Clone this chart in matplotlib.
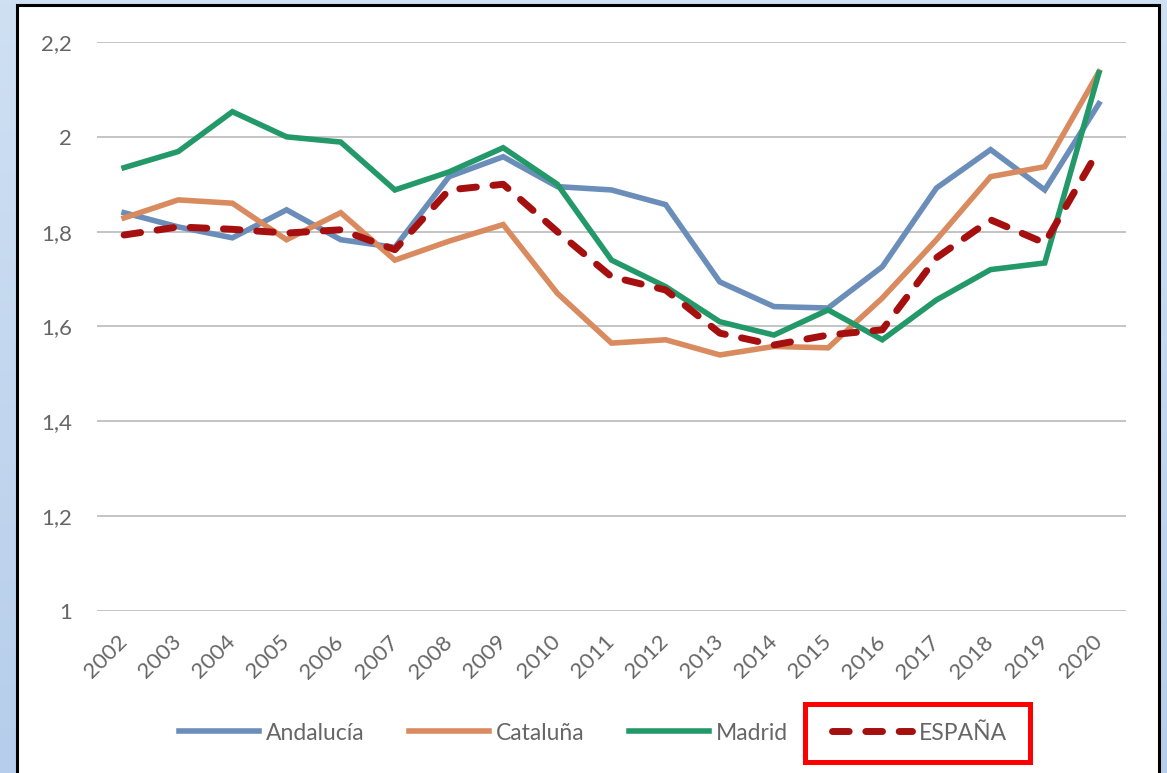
import matplotlib
matplotlib.use("Agg")
import matplotlib.pyplot as plt
import numpy as np
from matplotlib.patches import Rectangle
from matplotlib.colors import LinearSegmentedColormap

plt.rcParams["font.family"] = ["Lato", "DejaVu Sans"]

years = ["2002", "2003", "2004", "2005", "2006", "2007", "2008", "2009", "2010", "2011",
         "2012", "2013", "2014", "2015", "2016", "2017", "2018", "2019", "2020"]
andalucia = [1.840, 1.810, 1.787, 1.846, 1.783, 1.767, 1.916, 1.958, 1.895, 1.888,
             1.857, 1.694, 1.642, 1.639, 1.726, 1.892, 1.973, 1.888, 2.070]
cataluna = [1.829, 1.867, 1.860, 1.783, 1.840, 1.740, 1.780, 1.815, 1.670, 1.565,
            1.572, 1.540, 1.558, 1.555, 1.660, 1.783, 1.916, 1.937, 2.137]
madrid = [1.935, 1.969, 2.053, 2.000, 1.989, 1.888, 1.926, 1.977, 1.900, 1.740,
          1.684, 1.610, 1.582, 1.635, 1.572, 1.656, 1.720, 1.734, 2.135]
espana = [1.793, 1.810, 1.805, 1.797, 1.804, 1.762, 1.888, 1.900, 1.800, 1.705,
          1.677, 1.586, 1.561, 1.582, 1.593, 1.745, 1.825, 1.776, 1.973]
yticks = [1.0, 1.2, 1.4, 1.6, 1.8, 2.0, 2.2]
ytick_labels = ["1", "1,2", "1,4", "1,6", "1,8", "2", "2,2"]

W, H = 1167, 773
fig = plt.figure(figsize=(W / 100, H / 100), dpi=100)

# blue gradient background
bg = fig.add_axes([0, 0, 1, 1], zorder=-3)
cmap = LinearSegmentedColormap.from_list("bg", ["#CFE0F3", "#B6CEEB"])
bg.imshow(np.linspace(0, 1, 256).reshape(-1, 1), aspect="auto", cmap=cmap,
          extent=[0, 1, 0, 1], origin="upper")
bg.set_axis_off()

# white panel with black border
fig.patches.append(Rectangle((17 / W, -0.02), 1142 / W, (H - 5) / H + 0.02,
                             transform=fig.transFigure, facecolor="white",
                             edgecolor="black", linewidth=2.2, zorder=-2))

ax = fig.add_axes([97 / W, (H - 611) / H, 1029 / W, 569 / H])
ax.set_facecolor("none")
x = np.arange(len(years))
ax.plot(x, andalucia, color="#6A8DBA", lw=4, solid_joinstyle="miter", label="Andalucía")
ax.plot(x, cataluna, color="#D98B5F", lw=4, solid_joinstyle="miter", label="Cataluña")
ax.plot(x, madrid, color="#23996A", lw=4, solid_joinstyle="miter", label="Madrid")
ax.plot(x, espana, color="#A50F0F", lw=5, dashes=(2.4, 2.4), dash_capstyle="round",
        label="ESPAÑA")

ax.set_xlim(-0.5, len(years) - 0.5)
ax.set_ylim(1, 2.2)
ax.set_yticks(yticks)
ax.set_yticklabels(ytick_labels)
ax.set_xticks(x)
ax.set_xticklabels(years, rotation=45, ha="right", va="center", rotation_mode="anchor")
ax.tick_params(axis="both", length=0, colors="#666666", labelsize=16)
ax.tick_params(axis="y", pad=18)
ax.tick_params(axis="x", pad=20)
ax.yaxis.grid(True, color="#C4C4C4", lw=1.4)
ax.set_axisbelow(True)
for s in ax.spines.values():
    s.set_visible(False)

handles, labels = ax.get_legend_handles_labels()
leg = fig.legend(handles, labels, loc="center", bbox_to_anchor=(593 / W, 40 / H), ncol=4,
                 frameon=False, fontsize=16.5, handlelength=3.5, handletextpad=0.3,
                 columnspacing=1.92)
for t in leg.get_texts():
    t.set_color("#666666")

# red box around ESPAÑA entry
fig.patches.append(Rectangle((805 / W, (H - 762) / H), 225 / W, 58 / H,
                             transform=fig.transFigure, fill=False,
                             edgecolor="#FF0000", linewidth=3.6, zorder=5))

fig.savefig("out.png", dpi=100)
